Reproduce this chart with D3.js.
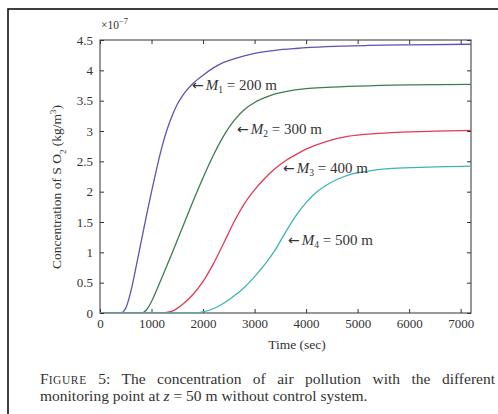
<!DOCTYPE html>
<html>
<head>
<meta charset="utf-8">
<script src="https://cdn.jsdelivr.net/npm/d3@7"></script>
<style>
  html, body { margin: 0; padding: 0; background: #fff; }
  svg { display: block; }
  text { font-family: "Liberation Serif", "DejaVu Serif", serif; }
</style>
</head>
<body>
<svg id="chart" width="498" height="414"></svg>
<script>
// ---- data (concentration in units of 1e-7 kg/m^3, time in sec) ----
const t1 = [0, 400, 500, 600, 700, 800, 900, 1000, 1100, 1200, 1300, 1400, 1500, 1600, 1700, 1800, 2000, 2200, 2400, 2600, 2800, 3000, 3400, 3800, 4400, 5200, 6000, 7200];
const m1 = [0, 0, 0.08, 0.36, 0.76, 1.18, 1.60, 2.00, 2.38, 2.73, 3.02, 3.25, 3.44, 3.58, 3.69, 3.78, 3.92, 4.04, 4.13, 4.19, 4.24, 4.28, 4.33, 4.36, 4.39, 4.41, 4.42, 4.43];
const t2 = [0, 800, 900, 1000, 1100, 1200, 1400, 1600, 1800, 2000, 2200, 2400, 2600, 2800, 3000, 3200, 3400, 3600, 4000, 4400, 5000, 6000, 7200];
const m2 = [0, 0, 0.05, 0.19, 0.38, 0.58, 0.99, 1.41, 1.83, 2.23, 2.60, 2.92, 3.17, 3.35, 3.47, 3.55, 3.61, 3.65, 3.70, 3.72, 3.74, 3.76, 3.77];
const t3 = [0, 1200, 1400, 1600, 1800, 2000, 2200, 2400, 2600, 2800, 3000, 3200, 3400, 3600, 3800, 4000, 4400, 4800, 5400, 6200, 7200];
const m3 = [0, 0, 0.03, 0.14, 0.30, 0.52, 0.81, 1.15, 1.50, 1.80, 2.03, 2.22, 2.38, 2.51, 2.61, 2.70, 2.83, 2.91, 2.96, 2.99, 3.01];
const t4 = [0, 1800, 2000, 2200, 2400, 2600, 2800, 3000, 3200, 3400, 3600, 3800, 4000, 4200, 4400, 4600, 4800, 5200, 5600, 6200, 7200];
const m4 = [0, 0, 0.02, 0.07, 0.16, 0.28, 0.42, 0.60, 0.80, 1.04, 1.33, 1.60, 1.82, 1.99, 2.11, 2.20, 2.27, 2.34, 2.38, 2.40, 2.42];
const seriesSubs = ["1", "2", "3", "4"];
const seriesDist = ["200 m", "300 m", "400 m", "500 m"];
// label anchor points in data coordinates (time, value)
const labelTime = [1785, 2659, 3552, 3650];
const labelValue = [3.76, 3.03, 2.39, 1.20];
const xTicks = [0, 1000, 2000, 3000, 4000, 5000, 6000, 7000];
const yTicks = [0, 0.5, 1, 1.5, 2, 2.5, 3, 3.5, 4, 4.5];
const yTickLabels = ["0", "0.5", "1", "1.5", "2", "2.5", "3", "3.5", "4", "4.5"];

// ---- layout ----
const colors = ["#5a55b0", "#3b7d52", "#e23b55", "#3fb4b4"];
const plot = { left: 100, top: 40, right: 471, bottom: 313 };
const svg = d3.select("#chart");
const ink = "#333";

// outer figure box
svg.append("rect").attr("x", 8).attr("y", 9).attr("width", 520).attr("height", 440)
  .attr("fill", "none").attr("stroke", "#111").attr("stroke-width", 1.6);

const x = d3.scaleLinear().domain([0, 7200]).range([plot.left, plot.right]);
const y = d3.scaleLinear().domain([0, 4.5]).range([plot.bottom, plot.top]);

// frame
svg.append("rect").attr("x", plot.left).attr("y", plot.top)
  .attr("width", plot.right - plot.left).attr("height", plot.bottom - plot.top)
  .attr("fill", "none").attr("stroke", ink).attr("stroke-width", 1);

const axisStyle = g => {
  g.select(".domain").remove();
  g.selectAll(".tick line").attr("stroke", ink).attr("stroke-width", 1);
  g.selectAll(".tick text").attr("fill", ink).style("font-size", "13px")
    .style("font-family", '"Liberation Serif", serif');
};

svg.append("g").attr("transform", `translate(0,${plot.bottom})`)
  .call(d3.axisBottom(x).tickValues(xTicks).tickSize(-4).tickPadding(6).tickFormat(d3.format("d")))
  .call(axisStyle);
svg.append("g").attr("transform", `translate(0,${plot.top})`)
  .call(d3.axisTop(x).tickValues(xTicks).tickSize(-4).tickFormat(""))
  .call(axisStyle);
svg.append("g").attr("transform", `translate(${plot.left},0)`)
  .call(d3.axisLeft(y).tickValues(yTicks).tickSize(-4).tickPadding(7).tickFormat((d, i) => yTickLabels[i]))
  .call(axisStyle);
svg.append("g").attr("transform", `translate(${plot.right},0)`)
  .call(d3.axisRight(y).tickValues(yTicks).tickSize(-4).tickFormat(""))
  .call(axisStyle);

// curves
const seriesT = [t1, t2, t3, t4];
const seriesV = [m1, m2, m3, m4];
svg.append("clipPath").attr("id", "clip").append("rect")
  .attr("x", plot.left).attr("y", plot.top - 2).attr("width", plot.right - plot.left).attr("height", plot.bottom - plot.top + 2);
seriesV.forEach((vals, k) => {
  const ts = seriesT[k];
  const line = d3.line().x((d, i) => x(ts[i])).y(d => y(d)).curve(d3.curveMonotoneX);
  svg.append("path").attr("d", line(vals)).attr("fill", "none")
    .attr("stroke", colors[k]).attr("stroke-width", 1.3).attr("clip-path", "url(#clip)");
});

// curve labels
seriesSubs.forEach((sub, k) => {
  const t = svg.append("text").attr("x", x(labelTime[k])).attr("y", y(labelValue[k]) + 5)
    .attr("fill", ink).style("font-size", "15px");
  t.append("tspan").style("font-family", '"DejaVu Sans", sans-serif').style("font-size", "14px").text("\u2190");
  t.append("tspan").attr("font-style", "italic").attr("dx", 2).text("M");
  t.append("tspan").attr("baseline-shift", "-25%").style("font-size", "9.5px").text(sub);
  t.append("tspan").text(" = " + seriesDist[k]);
});

// x10^-7 multiplier
const mult = svg.append("text").attr("x", 101).attr("y", 29).attr("fill", ink).style("font-size", "11.5px");
mult.append("tspan").text("\u00d710");
mult.append("tspan").attr("baseline-shift", "super").style("font-size", "8.5px").text("\u22127");

// y-axis title
const yt = svg.append("text").attr("transform", `translate(61,${187}) rotate(-90)`)
  .attr("text-anchor", "middle").attr("fill", ink).style("font-size", "13.5px");
yt.append("tspan").text("Concentration of S O");
yt.append("tspan").attr("baseline-shift", "sub").style("font-size", "9px").text("2");
yt.append("tspan").text(" (kg/m");
yt.append("tspan").attr("baseline-shift", "super").style("font-size", "9px").text("3");
yt.append("tspan").text(")");

// x-axis title
svg.append("text").attr("x", 297).attr("y", 349).attr("text-anchor", "middle")
  .attr("fill", ink).style("font-size", "13.5px").text("Time (sec)");

// caption
const c1 = svg.append("text").attr("x", 40).attr("y", 384).attr("fill", ink).style("font-size", "15.5px");
c1.append("tspan").text("F");
c1.append("tspan").style("font-size", "11.5px").style("letter-spacing", "0.6px").text("IGURE");
c1.append("tspan").text(" 5: The concentration of air pollution with the different");
const natural = c1.node().getComputedTextLength();
const gaps = 9;
c1.style("word-spacing", Math.max(0, (455 - natural) / gaps) + "px");
const c2 = svg.append("text").attr("x", 40).attr("y", 401).attr("fill", ink).style("font-size", "15.5px");
c2.append("tspan").text("monitoring point at ");
c2.append("tspan").attr("font-style", "italic").text("z");
c2.append("tspan").text(" = 50 m without control system.");
</script>
</body>
</html>
